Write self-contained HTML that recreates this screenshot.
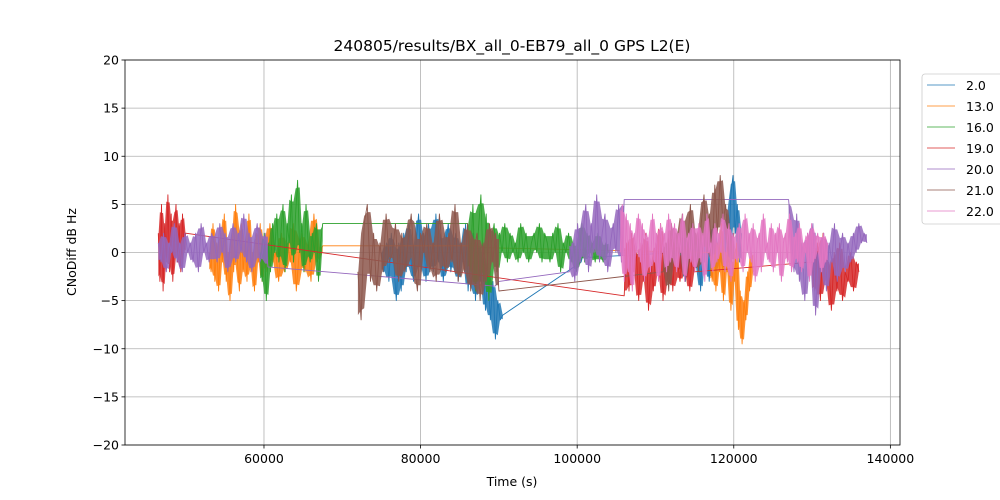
<!DOCTYPE html>
<html><head><meta charset="utf-8"><style>
html,body{margin:0;padding:0;background:#fff;}
svg{display:block;font-family:"DejaVu Sans","Liberation Sans",sans-serif;}
</style></head><body>
<svg id="chart" width="1000" height="500" viewBox="0 0 1000 500" xmlns="http://www.w3.org/2000/svg">
<rect x="0" y="0" width="1000" height="500" fill="#fff"/>
<g id="grid"></g>
<g id="series"></g>
<rect x="125" y="60" width="775" height="385" fill="none" stroke="#000" stroke-width="0.8"/>
<g id="ticks"></g>
<text x="512" y="51" text-anchor="middle" font-size="15.5">240805/results/BX_all_0-EB79_all_0 GPS L2(E)</text>
<text x="512" y="486" text-anchor="middle" font-size="12.5">Time (s)</text>
<text x="76" y="252" text-anchor="middle" font-size="12.5" transform="rotate(-90 76 252)">CNoDiff dB Hz</text>
<g id="legend"></g>
</svg>
<script>
const xTicks=[60000,80000,100000,120000,140000];
const yTicks=[-20,-15,-10,-5,0,5,10,15,20];
const seriesNames=["2.0","13.0","16.0","19.0","20.0","21.0","22.0"];
const seriesColors=["#1f77b4","#ff7f0e","#2ca02c","#d62728","#9467bd","#8c564b","#e377c2"];
// each series: list of segments [startTime, endTime, values]
const s2=[[75000,90500,[0,-2,1,-3,2,-1,-5,1,-4,2,-2,3,-1,-3,1,4,-2,2,-3,3,0,-2,4,-1,2,-3,1,3,-2,0,2,-3,1,-1,3,-4,0,2,-5,1,-3,0,-6,-2,-7,-3,-9,-5,-7,-6.5]],
 [100500,101500,[-1,0.5,-0.5]],
 [113000,121000,[0,-2,2,-3,1,-1,3,-2,0,2,-4,1,-1,2,-3,0,3,-2,1,-1,2,-2,4,-1,6,8,2,5,-1,2]]];
const s13=[[53000,60000,[0,-2,3,-3,1,-4,2,-1,4,-3,0,-5,2,-2,5,-1,-4,3,-2,1,-3,4,-2,0,-4,2,-1,3,-3,1]],
 [60000,67500,[1,-2,3,-1,0,-3,2,-2,1,-1,3,-4,0,2,-2,1,-3,4,-1,0,0.7]],
 [87000,88000,[0.7,0.5]],
 [117000,122500,[0,-3,2,-4,1,-2,3,-5,0,-2,2,-6,-1,-3,1,-8,-4,-9.5,-5,-7,-2,-4,0,-2]]];
const s16=[[59500,67500,[0,-3,2,-5,1,-2,3,0,4,-1,2,5,-2,3,1,6,-1,4,7.5,0,3,-2,5,1,-1,2,0,3,-3,1,3]],
 [86000,104000,[3,-2,5,-4,2,6,-3,4,-5,1,3,-2,2,0,3,-1,2,0,1,-1,3,0,2,-1,1,2,0,3,-1,2,1,-1,2,0,3,-2,1,0,2,-1,1,-2,0,3,-1,2,0,1,-1,2,0,-1,1,0]]];
const s19=[[46500,50000,[2,-3,5,-4,3,-1,6,-2,4,-3,2,5,-1,3,-2,4,0,2]],
 [106000,115000,[-4.5,1,-4,2,-2,0,-5,1,-3,2,-6,-1,-4,1,-2,3,-5,0,-3,2,-4,1,-1,-3,0,-2,1,-4,0,-2]],
 [130000,136000,[-1,-4,1,-5,2,-3,-1,-6,0,-4,1,-5,-2,-3,0,-4,-1,-2]]];
const s20=[[46500,60500,[1,-1,2,-2,1,0,3,-1,1,-2,2,0,1,-1,2,-2,3,0,1,-1,2,1,-1,3,0,2,-2,1,3,-1,2,0,4,-1,2,-2,1,3,-1,0,2,-1.5]],
 [89500,90000,[-3.5,-3]],
 [99000,106000,[-2,1,-3,3,-1,2,5,-2,3,0,6,-1,2,4,-2,1,3,0,5,-1,5.5]],
 [127000,137000,[5.5,2,-2,4,-3,1,-5,2,-1,3,-6.5,0,-2,2,-4,1,-1,3,-3,0,2,-2,1,-1,2,0,3,1,2,1]]];
const s21=[[72000,90000,[-2,-7,3,5,-3,2,-4,1,-2,4,-1,0,3,-3,2,-2,1,4,-1,-4,2,0,3,-2,1,-3,4,0,-2,2,-1,5,-3,1,-2,3,-4,0,2,-5,1,-3,3,-1,2,-4]],
 [111000,120000,[-2,1,-4,3,-1,2,0,4,-3,1,5,-1,2,-2,3,6,0,4,-1,7,2,8,3,5,1,-1,2]]];
const s22=[[105500,132000,[0,5,-3,4,-2,3,-4,2,0,4,-1,3,-3,2,1,-2,4,-1,2,-3,3,0,2,-2,4,-1,1,3,-2,2,0,4,-3,1,2,-1,3,-2,0,3,-1,2,-3,4,0,1,-2,3,-1,2,0,4,-2,1,3,-3,2,0,-1,3,1,-2,4,0,2,-1,3,-3,1,2,-2,4,0,1,-1,3,-2,2,0,3,-3,1,2,-1,4,-2,0,2,-1,3,-2,1,0,2,-3,3,-1,1,2,0,-2,2,-1,1]]];
const allSeries=[s2,s13,s16,s19,s20,s21,s22];

const NS="http://www.w3.org/2000/svg";
const X0=125,X1=900,Y0=60,Y1=445,xmin=42250,xmax=141230,ymin=-20,ymax=20;
function xs(v){return X0+(v-xmin)/(xmax-xmin)*(X1-X0);}
function ys(v){return Y1-(v-ymin)/(ymax-ymin)*(Y1-Y0);}
function mk(tag,attrs,parent){const e=document.createElementNS(NS,tag);for(const k in attrs)e.setAttribute(k,attrs[k]);parent.appendChild(e);return e;}
const grid=document.getElementById('grid'),ticks=document.getElementById('ticks');
xTicks.forEach(t=>{const x=xs(t);
 const g=mk('line',{x1:x,x2:x,y1:Y0,y2:Y1,stroke:'#b0b0b0','stroke-width':0.8},grid);
 
 const tk=mk('line',{x1:x,x2:x,y1:Y1,y2:Y1+3.5,stroke:'#000','stroke-width':0.8},ticks);
 
 const lb=mk('text',{x:x,y:Y1+18,'text-anchor':'middle','font-size':12.5},ticks);lb.textContent=t;
 });
yTicks.forEach(t=>{const y=ys(t);
 const g=mk('line',{x1:X0,x2:X1,y1:y,y2:y,stroke:'#b0b0b0','stroke-width':0.8},grid);
 
 const tk=mk('line',{x1:X0-3.5,x2:X0,y1:y,y2:y,stroke:'#000','stroke-width':0.8},ticks);
 
 const lb=mk('text',{x:X0-6,y:y+4.5,'text-anchor':'end','font-size':12.5},ticks);lb.textContent=(t<0?'\u2212'+(-t):t);
 });
const sl=document.getElementById('series');
allSeries.forEach((segs,i)=>{const pts=[];
 const g=mk('g',{},sl);
 
 
 segs.forEach(([a,b,vals])=>{const n=vals.length;
  const tAt=j=>n>1?a+(b-a)*j/(n-1):a;
  vals.forEach((v,j)=>{pts.push(xs(tAt(j)).toFixed(1)+','+ys(v).toFixed(1));});
  if(n>4){const up=[],lo=[];
   vals.forEach((v,j)=>{const w=vals.slice(Math.max(0,j-1),Math.min(n,j+2));
    const mx=Math.max(...w),mn=Math.min(...w),c=(mx+mn)/2,h=(mx-mn)/2*0.8;
    up.push(xs(tAt(j)).toFixed(1)+','+ys(c+h).toFixed(1));
    lo.unshift(xs(tAt(j)).toFixed(1)+','+ys(c-h).toFixed(1));});
   const f=mk('polygon',{points:up.concat(lo).join(' '),fill:seriesColors[i],'fill-opacity':0.85,stroke:'none'},g);
   
   }
 });
 const p=mk('polyline',{points:pts.join(' '),fill:'none',stroke:seriesColors[i],'stroke-width':0.9,'stroke-linejoin':'round'},g);
 
 });
const lg=document.getElementById('legend');
const box=mk('rect',{x:922,y:74,width:90,height:150,rx:3,fill:'#fff',stroke:'#cccccc','stroke-width':0.8},lg);

seriesNames.forEach((n,i)=>{const y=85+i*21;
 const g=mk('g',{},lg);
 
 
 mk('line',{x1:927,x2:955,y1:y,y2:y,stroke:seriesColors[i],'stroke-width':0.8},g);
 const t=mk('text',{x:966,y:y+5,'font-size':12.5},g);t.textContent=n;});
</script>
</body></html>
